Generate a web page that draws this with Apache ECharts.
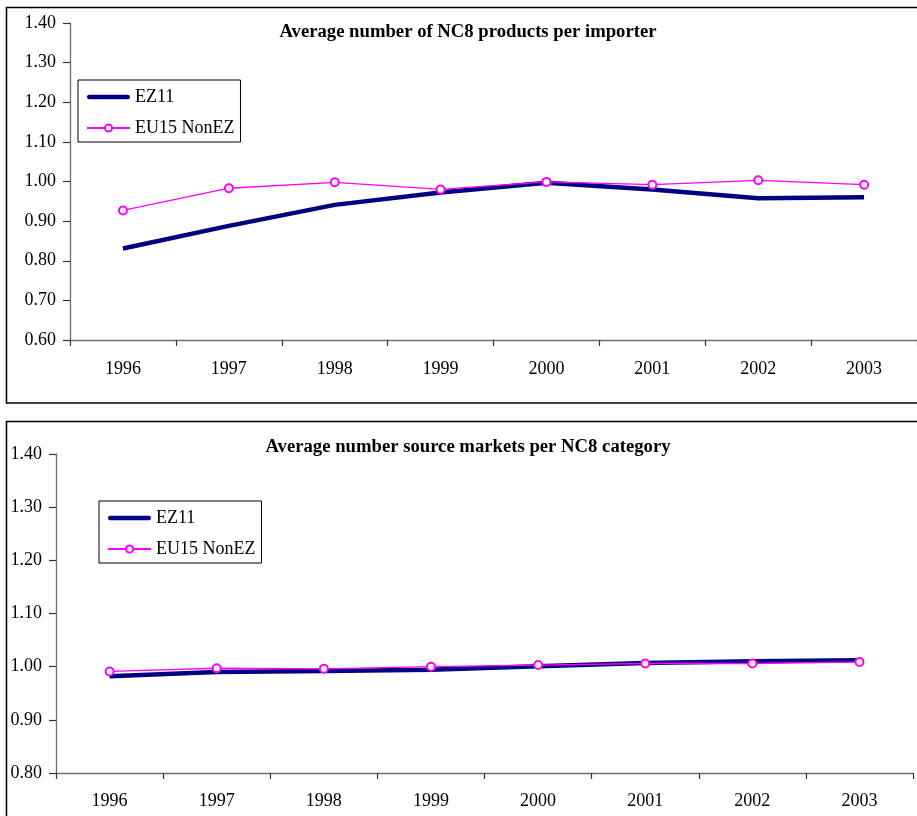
<!DOCTYPE html>
<html>
<head>
<meta charset="utf-8">
<script src="https://cdn.jsdelivr.net/npm/echarts@6/dist/echarts.min.js"></script>
<style>
  html, body { margin: 0; padding: 0; background: #fff; }
  #chart { width: 917px; height: 816px; }
</style>
</head>
<body>
<div id="chart"></div>
<script>
const years = ['1996', '1997', '1998', '1999', '2000', '2001', '2002', '2003'];

const title1 = 'Average number of NC8 products per importer';
const ez11Products = [0.831, 0.888, 0.941, 0.972, 0.997, 0.980, 0.958, 0.960];
const nonEzProducts = [0.927, 0.983, 0.998, 0.980, 0.999, 0.992, 1.003, 0.992];

const title2 = 'Average number source markets per NC8 category';
const ez11Markets = [0.982, 0.990, 0.992, 0.994, 1.001, 1.007, 1.010, 1.012];
const nonEzMarkets = [0.991, 0.997, 0.996, 1.000, 1.003, 1.006, 1.006, 1.009];

const FONT = 'Liberation Serif';
const AXIS_COLOR = '#6e6e6e';
const NAVY = '#000080';
const MAGENTA = '#ff00ff';

function xAxis(gridIndex, margin) {
  return {
    type: 'category', gridIndex, data: years, boundaryGap: true,
    axisLine: { lineStyle: { color: AXIS_COLOR, width: 1.3 } },
    axisTick: { show: true, length: 6, lineStyle: { color: '#333', width: 1.2 } },
    axisLabel: { color: '#000', fontFamily: FONT, fontSize: 18, margin: margin },
    splitLine: { show: false }
  };
}
function yAxis(gridIndex, min, max) {
  return {
    type: 'value', gridIndex, min, max, interval: 0.1,
    axisLine: { show: true, lineStyle: { color: AXIS_COLOR, width: 1.3 } },
    axisTick: { show: true, length: 7, lineStyle: { color: '#333', width: 1.2 } },
    axisLabel: { color: '#000', fontFamily: FONT, fontSize: 18, margin: 14,
      formatter: v => v.toFixed(2) },
    splitLine: { show: false }
  };
}
function ezSeries(idx, data) {
  return {
    name: 'EZ11', type: 'line', xAxisIndex: idx, yAxisIndex: idx, data,
    symbol: 'none', lineStyle: { color: NAVY, width: 4.5 }, itemStyle: { color: NAVY },
    silent: true, animation: false, z: 2
  };
}
function nonEzSeries(idx, data) {
  return {
    name: 'EU15 NonEZ', type: 'line', xAxisIndex: idx, yAxisIndex: idx, data,
    symbol: 'emptyCircle', symbolSize: 8, showSymbol: true,
    lineStyle: { color: MAGENTA, width: 1.3 },
    itemStyle: { color: MAGENTA, borderColor: MAGENTA, borderWidth: 1.6 },
    silent: true, animation: false, z: 3
  };
}
function legend(left, top) {
  return {
    orient: 'vertical', left, top,
    data: [
      { name: 'EZ11', icon: 'path://M2,0 H41 A2.25,2.25 0 0 1 41,4.5 H2 A2.25,2.25 0 0 1 2,0 Z',
        itemStyle: { color: NAVY } },
      { name: 'EU15 NonEZ' }
    ],
    backgroundColor: '#fff', borderColor: '#000', borderWidth: 1,
    padding: [8, 6, 5, 8], itemGap: 13, itemWidth: 43, itemHeight: 9, itemTextGap: 3,
    textStyle: { fontFamily: FONT, fontSize: 18, color: '#000' },
    selectedMode: false
  };
}

const chart = echarts.init(document.getElementById('chart'), null, { renderer: 'canvas' });
chart.setOption({
  animation: false,
  backgroundColor: '#fff',
  graphic: [
    { type: 'rect', shape: { x: 6.5, y: 7.5, width: 940, height: 395.5 },
      style: { fill: 'none', stroke: '#000', lineWidth: 1.5 }, z: -10, silent: true },
    { type: 'rect', shape: { x: 6.5, y: 421.5, width: 940, height: 420 },
      style: { fill: 'none', stroke: '#000', lineWidth: 1.5 }, z: -10, silent: true }
  ],
  title: [
    { text: title1, left: 468, top: 23, textAlign: 'center', padding: 0,
      textStyle: { fontFamily: FONT, fontSize: 18.7, fontWeight: 'bold', color: '#000' } },
    { text: title2, left: 468, top: 438, textAlign: 'center', padding: 0,
      textStyle: { fontFamily: FONT, fontSize: 18.7, fontWeight: 'bold', color: '#000' } }
  ],
  legend: [legend(78, 80), legend(99, 501)],
  grid: [
    { left: 70, top: 23, height: 317, right: -11, containLabel: false },
    { left: 56, top: 454, height: 319, right: 4, containLabel: false }
  ],
  xAxis: [xAxis(0, 20), xAxis(1, 19)],
  yAxis: [yAxis(0, 0.6, 1.4), yAxis(1, 0.8, 1.4)],
  series: [
    ezSeries(0, ez11Products), nonEzSeries(0, nonEzProducts),
    ezSeries(1, ez11Markets), nonEzSeries(1, nonEzMarkets)
  ]
});
</script>
</body>
</html>
